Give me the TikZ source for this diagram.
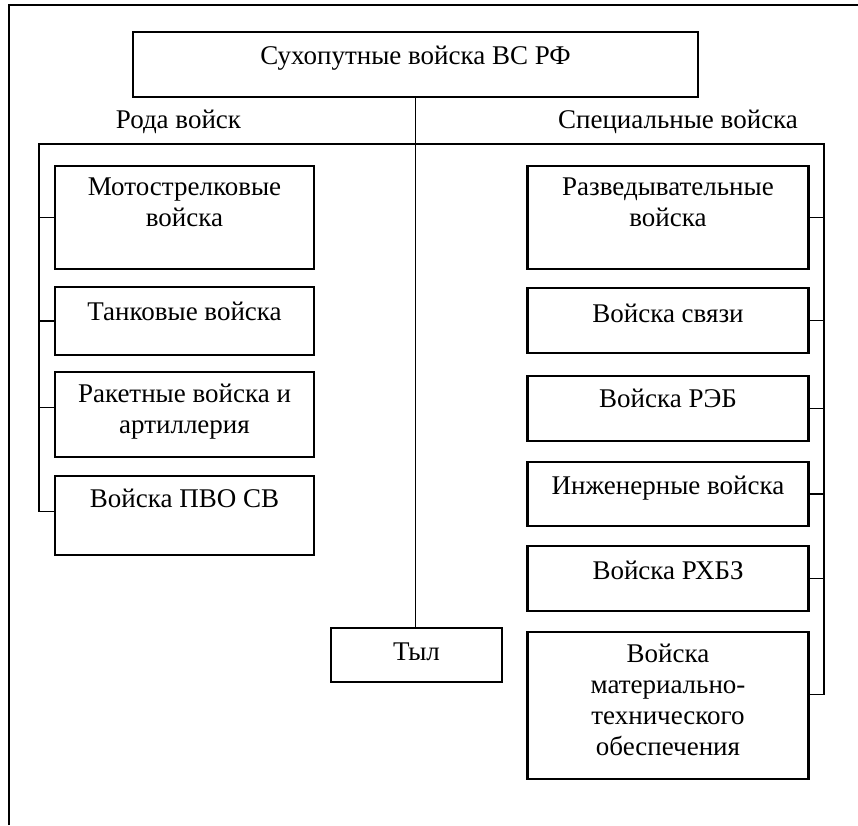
\documentclass[tikz,border=0pt]{standalone}
\usepackage{fontspec}
\setmainfont{Liberation Serif}
\usetikzlibrary{positioning}

\begin{document}
\begin{tikzpicture}[x=1pt,y=-1pt,
  box/.style={draw,rectangle,line width=2.8pt,inner sep=0pt,outer sep=0pt},
  txt/.style={anchor=north,inner sep=0pt,align=center,font=\fontsize{27}{31}\selectfont,execute at begin node=\strut},
  link/.style={line width=1.6pt}]
\useasboundingbox (0,0) rectangle (858,825);

% frame: only top and left edges are visible
\draw[line width=2.2pt] (9,825) -- (9,5) -- (858,5);

% top and rear
\node[box,minimum width=565pt,minimum height=65pt] (top) at (415.5,64.5) {};
\node[box,minimum width=171pt,minimum height=54pt] (tyl) at (416.5,655) {};

% left column
\node[box,minimum width=259pt,minimum height=103pt] (mot) at (184.5,217.5) {};
\node[box,minimum width=259pt,minimum height=68pt] (tank) [below=18pt of mot] {};
\node[box,minimum width=259pt,minimum height=85pt] (rak) [below=17pt of tank] {};
\node[box,minimum width=259pt,minimum height=79pt] (pvo) [below=19pt of rak] {};

% right column
\node[box,minimum width=281pt,minimum height=103pt] (razv) at (668,217.5) {};
\node[box,minimum width=281pt,minimum height=65pt] (svyaz) [below=19pt of razv] {};
\node[box,minimum width=281pt,minimum height=65pt] (reb) [below=23pt of svyaz] {};
\node[box,minimum width=281pt,minimum height=64pt] (inzh) [below=21pt of reb] {};
\node[box,minimum width=281pt,minimum height=65pt] (rhbz) [below=20pt of inzh] {};
\node[box,minimum width=281pt,minimum height=147pt] (mto) [below=21pt of rhbz] {};

% texts
\node[txt] (top-t) at ([yshift=-11pt]top.north) {Сухопутные войска ВС РФ};
\node[txt] (tyl-t) at ([yshift=-11pt]tyl.north) {Тыл};
\node[txt] (mot-t) at ([yshift=-12pt]mot.north) {Мотострелковые\\войска};
\node[txt] (tank-t) at ([yshift=-12pt]tank.north) {Танковые войска};
\node[txt] (rak-t) at ([yshift=-12pt]rak.north) {Ракетные войска и\\артиллерия};
\node[txt] (pvo-t) at ([yshift=-10pt]pvo.north) {Войска ПВО СВ};
\node[txt] (razv-t) at ([yshift=-12pt]razv.north) {Разведывательные\\войска};
\node[txt] (svyaz-t) at ([yshift=-13pt]svyaz.north) {Войска связи};
\node[txt] (reb-t) at ([yshift=-10pt]reb.north) {Войска РЭБ};
\node[txt] (inzh-t) at ([yshift=-11pt]inzh.north) {Инженерные войска};
\node[txt] (rhbz-t) at ([yshift=-12pt]rhbz.north) {Войска РХБЗ};
\node[txt] (mto-t) at ([yshift=-12pt]mto.north) {Войска\\материально-\\технического\\обеспечения};

\node[txt,anchor=base] (rod) at (178.5,128) {Рода войск};
\node[txt,anchor=base] (spec) at (678,128) {Специальные войска};

% connectors
\coordinate (lbus) at (39,144);
\coordinate (rbus) at (824,144);
\draw[link] (top.south) -- (top.south |- tyl.north);
\draw[link] ([yshift=4pt]pvo.west) -| (lbus) -- (rbus) |- ([yshift=11pt]mto.east);
\draw[link] (mot.west) -- (mot.west -| lbus);
\draw[link] (tank.west) -- (tank.west -| lbus);
\draw[link] ([yshift=7pt]rak.west) -- ([yshift=7pt]rak.west -| lbus);
\foreach \b in {razv,svyaz,reb,inzh,rhbz}
  \draw[link] (\b.east) -- (\b.east -| rbus);
\end{tikzpicture}
\end{document}
